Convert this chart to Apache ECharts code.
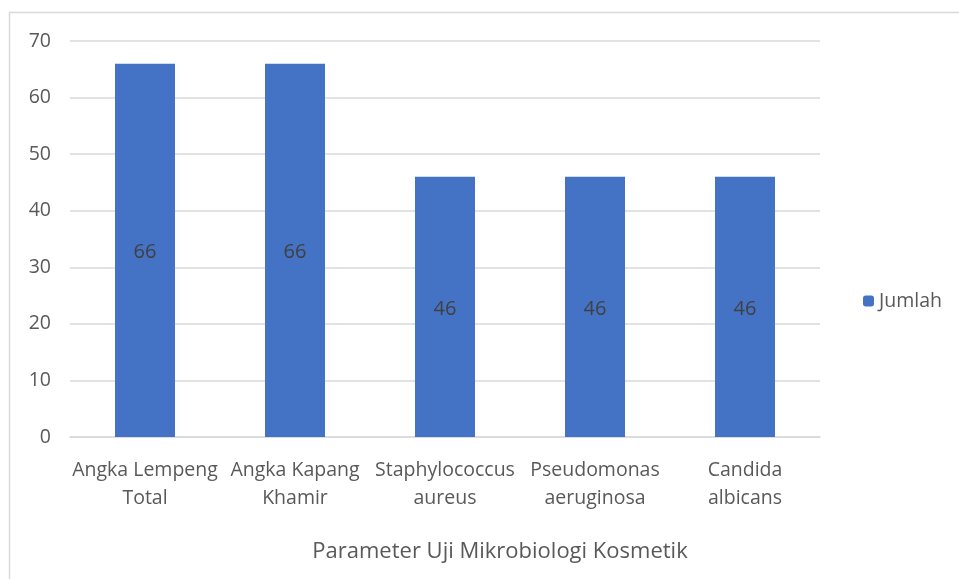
<!DOCTYPE html>
<html><head><meta charset="utf-8">
<script src="https://cdn.jsdelivr.net/npm/echarts@6/dist/echarts.min.js"></script>
<style>html,body{margin:0;padding:0;background:#fff}#c{width:959px;height:579px}</style>
</head><body><div id="c"></div>
<script>
const categories = ['Angka Lempeng\nTotal', 'Angka Kapang\nKhamir', 'Staphylococcus\naureus', 'Pseudomonas\naeruginosa', 'Candida\nalbicans'];
const values = [66, 66, 46, 46, 46];
const seriesName = 'Jumlah';
const axisTitle = 'Parameter Uji Mikrobiologi Kosmetik';
const FONT = 'Open Sans';
const chart = echarts.init(document.getElementById('c'));
chart.setOption({
  animation: false,
  textStyle: { fontFamily: FONT },
  graphic: [
    { type: 'rect', shape: { x: 9.5, y: 12.5, width: 1000, height: 1000 }, style: { fill: 'none', stroke: '#d9d9d9', lineWidth: 1.5 }, silent: true },
    { type: 'text', x: 500, y: 552, style: { text: axisTitle, fill: '#595959', font: '22px "Open Sans"', textAlign: 'center', textVerticalAlign: 'middle' }, silent: true }
  ],
  grid: { left: 70, right: 139, top: 41, bottom: 142 },
  legend: { data: [seriesName], orient: 'vertical', left: 858, top: 286, itemWidth: 11, itemHeight: 11, itemGap: 5,
    textStyle: { color: '#595959', fontSize: 19.5, fontFamily: FONT } },
  xAxis: { type: 'category', data: categories,
    axisLine: { lineStyle: { color: '#d9d9d9', width: 1.5 } }, axisTick: { show: false },
    axisLabel: { color: '#595959', fontSize: 19.5, lineHeight: 28, margin: 19, interval: 0, fontFamily: FONT } },
  yAxis: { type: 'value', min: 0, max: 70, interval: 10,
    axisLine: { show: false }, axisTick: { show: false },
    splitLine: { lineStyle: { color: '#d9d9d9', width: 1.5 } },
    axisLabel: { color: '#595959', fontSize: 19.5, margin: 19, fontFamily: FONT } },
  series: [{ name: seriesName, type: 'bar', data: values, barWidth: '40%',
    itemStyle: { color: '#4472c4' },
    label: { show: true, position: 'inside', offset: [0, 2], color: '#404040', fontSize: 20, fontFamily: FONT } }]
});
</script></body></html>
